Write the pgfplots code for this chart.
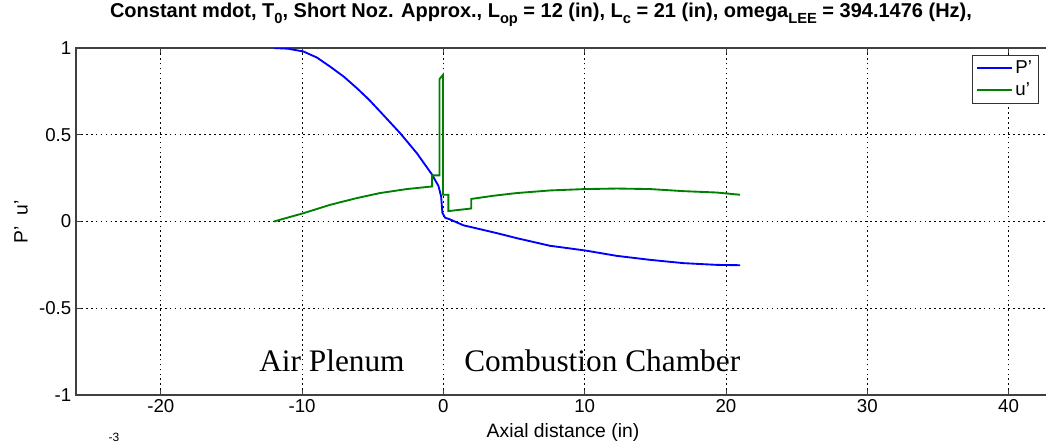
\documentclass[border=0pt]{standalone}
\usepackage{pgfplots}
\pgfplotsset{compat=1.18}
\usepackage{fontspec}
\setmainfont{Liberation Sans}
\newfontfamily\serifont{Liberation Serif}

\definecolor{mblue}{RGB}{0,0,255}
\definecolor{mgreen}{RGB}{0,128,0}
\newcommand{\sub}[1]{\raisebox{-0.55ex}{\fontsize{11}{11}\selectfont #1}}

\begin{document}
\begin{tikzpicture}[x=0.75pt,y=0.75pt]
\begin{axis}[at={(57pt,36.75pt)}, anchor=south west,
             scale only axis, width=731.25pt, height=260.25pt,
             xmin=-26, xmax=43, ymin=-1, ymax=1,
             xtick={-20,-10,0,10,20,30,40},
             ytick={-1,-0.5,0,0.5,1},
             /pgf/number format/assume math mode=true,
             ticklabel style={font=\fontsize{14}{16}\selectfont},
             tick align=inside, major tick length=4pt,
             tick style={black!75, line width=0.6pt},
             axis line style={black!75, line width=0.8pt},
             grid=major,
             grid style={black, line width=0.7pt, dash pattern=on 1.3pt off 2.4pt},
             legend style={at={(axis description cs:0.919,0.98)}, anchor=north west,
                           draw=black!80, fill=white, font=\fontsize{14}{16}\selectfont,
                           row sep=1.5pt, inner xsep=3pt, inner ysep=2pt},
             legend cell align=left,
             legend image code/.code={\draw[#1] plot coordinates {(0pt,0pt) (13pt,0pt) (26pt,0pt)};},
            ]
\addplot[color=mblue, line width=1.4pt] coordinates {
  (-12,1.0) (-11,0.996) (-9.91,0.98) (-8.95,0.945) (-8.02,0.893) (-7.05,0.835)
  (-6.13,0.769) (-5.3,0.705) (-4.48,0.634) (-3.06,0.509) (-1.88,0.394)
  (-0.8,0.27) (-0.35,0.205) (-0.16,0.144) (-0.07,0.05) (0.12,0.022)
  (0.47,0.012) (1.42,-0.022) (2.48,-0.042) (3.78,-0.067) (5.19,-0.096)
  (7.55,-0.14) (10.03,-0.167) (12.27,-0.198) (14.63,-0.221) (16.99,-0.24)
  (19.35,-0.25) (21,-0.252)
};
\addlegendentry{P'}
\addplot[color=mgreen, line width=1.4pt] coordinates {
  (-12,0) (-9.9,0.048) (-8.02,0.096) (-6.13,0.135) (-4.48,0.164)
  (-2.59,0.187) (-0.8,0.202) (-0.8,0.266) (-0.28,0.266) (-0.28,0.82)
  (-0.03,0.845) (-0.03,0.154) (0.35,0.154) (0.35,0.06) (1.97,0.075)
  (1.97,0.13) (3.5,0.148) (5.19,0.164) (7.55,0.179) (10.03,0.187)
  (12.27,0.19) (14.63,0.187) (16.99,0.175) (19.35,0.167) (21,0.154)
};
\addlegendentry{u'}
\end{axis}
% title
\node[font=\bfseries\fontsize{15}{17}\selectfont] at (541,429)
  {Constant mdot, T\sub{0}, Short Noz. Approx., L\sub{op} = 12 (in), L\sub{c} = 21 (in), omega\sub{LEE} = 394.1476 (Hz),};
% axis labels
\node[font=\fontsize{14.5}{16}\selectfont] at (563,12) {Axial distance (in)};
\node[font=\fontsize{14.5}{16}\selectfont, rotate=90] at (21,222) {P'\ \ u'};
\node[font=\fontsize{9}{10}\selectfont] at (114,7) {-3};
% annotations
\node[font=\serifont\fontsize{23.5}{26}\selectfont, anchor=base west, inner sep=0pt] at (259,72.5) {Air Plenum};
\node[font=\serifont\fontsize{23.5}{26}\selectfont, anchor=base west, inner sep=0pt] at (464,72.5) {Combustion Chamber};
\pgfresetboundingbox
\useasboundingbox (0,0) rectangle (1046,444);
\end{tikzpicture}
\end{document}
